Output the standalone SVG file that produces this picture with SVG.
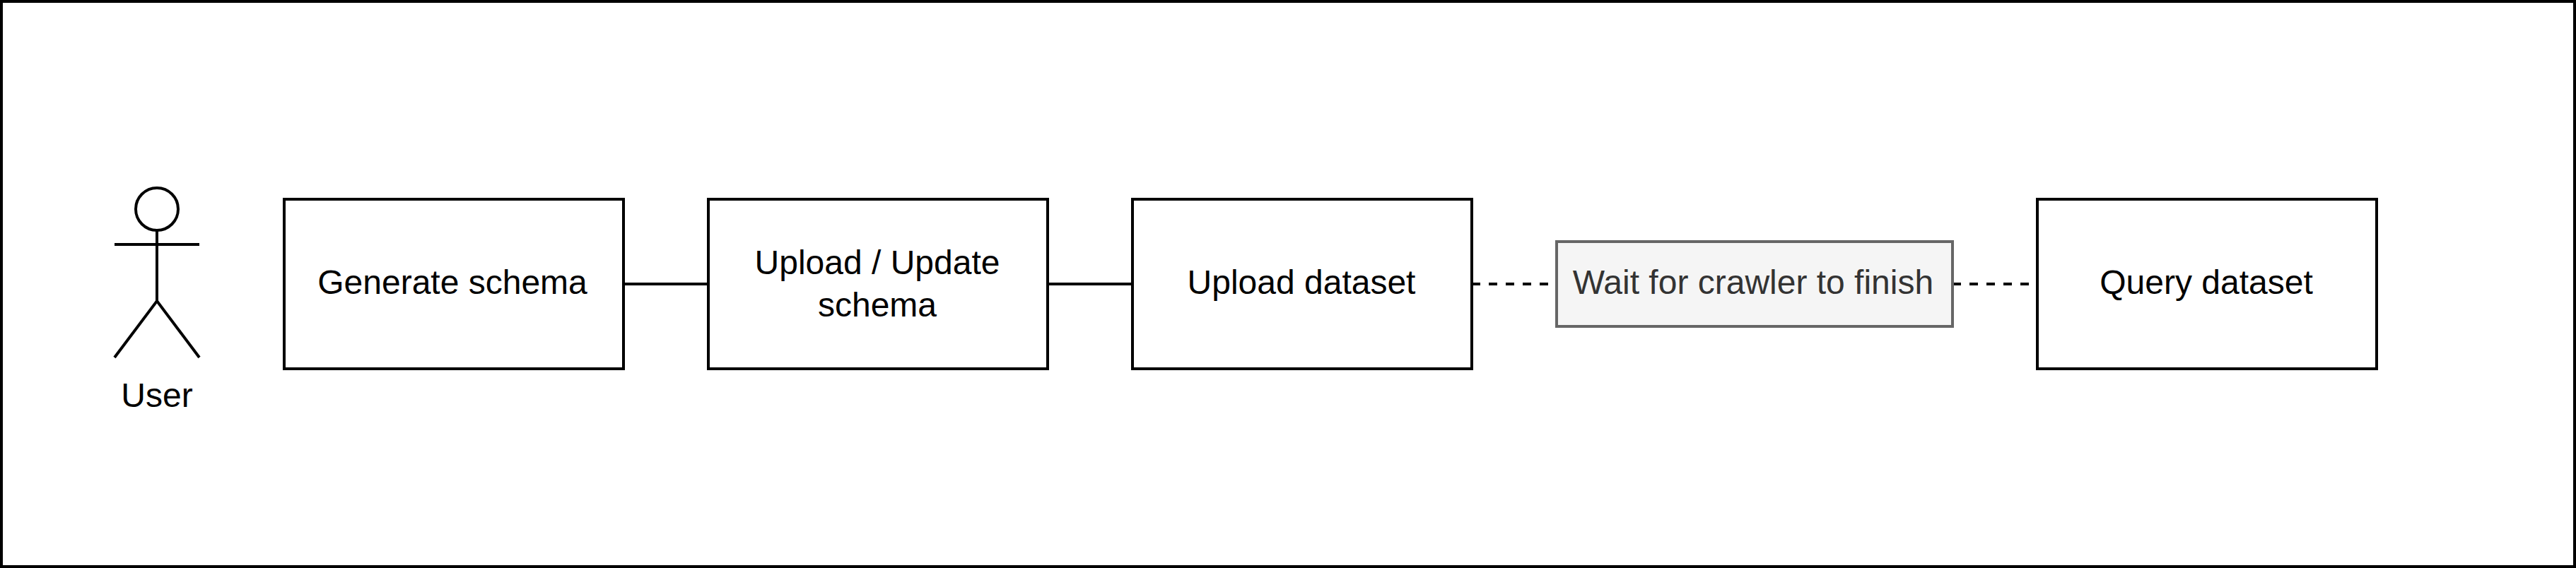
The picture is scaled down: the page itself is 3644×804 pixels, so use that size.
<svg xmlns="http://www.w3.org/2000/svg" width="3644" height="804" viewBox="0 0 3644 804">
  <style>
    .box { fill: #ffffff; stroke: #000000; stroke-width: 4; }
    .wait { fill: #f5f5f5; stroke: #666666; stroke-width: 4; }
    .line { fill: none; stroke: #000000; stroke-width: 4; }
    .dash { stroke-dasharray: 12 12; }
    text { font-family: "Liberation Sans", Arial, Helvetica, sans-serif; font-size: 48px; fill: #000000; text-anchor: middle; }
    .waitlabel { fill: #333333; }
  </style>
  <rect id="frame" x="2" y="2" width="3640" height="800" fill="#ffffff" stroke="#000000" stroke-width="4"/>
  <g id="connectors">
    <path class="line" d="M882 402H1002"/>
    <path class="line" d="M1482 402H1602"/>
    <path class="line dash" d="M2082 402H2202"/>
    <path class="line dash" d="M2762 402H2882"/>
  </g>
  <g id="user">
    <ellipse class="box" cx="222" cy="296" rx="30" ry="30"/>
    <path class="line" d="M222 326V426M162 346H282M162 506L222 426L282 506"/>
    <text x="222" y="576">User</text>
  </g>
  <g id="generate-schema">
    <rect class="box" x="402" y="282" width="480" height="240"/>
    <text x="640" y="416">Generate schema</text>
  </g>
  <g id="upload-update-schema">
    <rect class="box" x="1002" y="282" width="480" height="240"/>
    <text x="1241" y="388">Upload / Update</text>
    <text x="1241" y="448">schema</text>
  </g>
  <g id="upload-dataset">
    <rect class="box" x="1602" y="282" width="480" height="240"/>
    <text x="1841" y="416">Upload dataset</text>
  </g>
  <g id="wait-crawler">
    <rect class="wait" x="2202" y="342" width="560" height="120"/>
    <text class="waitlabel" x="2480" y="416">Wait for crawler to finish</text>
  </g>
  <g id="query-dataset">
    <rect class="box" x="2882" y="282" width="480" height="240"/>
    <text x="3121" y="416">Query dataset</text>
  </g>
</svg>
